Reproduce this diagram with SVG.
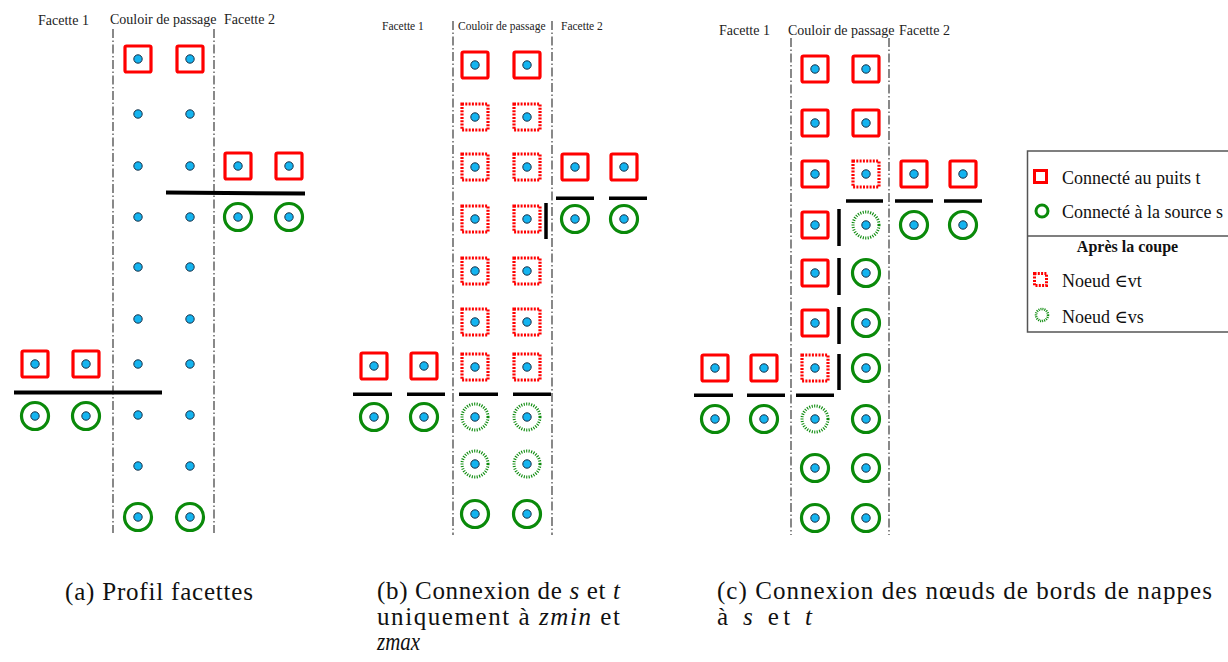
<svg xmlns="http://www.w3.org/2000/svg" xmlns:xlink="http://www.w3.org/1999/xlink" width="1228" height="662" viewBox="0 0 1228 662">
<style>
.bg{fill:#ffffff}
.lane{stroke:#4a4a4a;stroke-width:1.3;stroke-dasharray:9 2.5 1.5 2.5;fill:none}
.cut{stroke:#000;stroke-width:3.5;fill:none}
.cutA{stroke:#000;stroke-width:4;fill:none}
.t{fill:none;stroke:#ff0000;stroke-width:3.2}
.td{fill:none;stroke:#ff0000;stroke-width:3.2;stroke-dasharray:2 1.3}
.s{fill:none;stroke:#0a8a0a;stroke-width:3.2}
.sd{fill:none;stroke:#0a8a0a;stroke-width:3;stroke-dasharray:1.1 1.4}
.dot{fill:#14b4f0;stroke:#1a2f45;stroke-width:1}
.lbl{font-family:'Liberation Serif','DejaVu Serif',serif;fill:#222}
.leg{font-family:'Liberation Serif','DejaVu Serif',serif;font-size:18px;fill:#111}
.legb{font-family:'Liberation Serif','DejaVu Serif',serif;font-size:16px;font-weight:bold;fill:#111}
.cap{font-family:'Liberation Serif','DejaVu Serif',serif;font-size:25px;fill:#111}
.it{font-style:italic}
.box{fill:#fff;stroke:#555;stroke-width:1.5}
</style>
<defs>
<circle id="dot" r="4.2" class="dot"/>
<rect id="sqT" x="-13" y="-13" width="26" height="26" rx="1.5" class="t"/>
<rect id="sqTd" x="-13" y="-13" width="26" height="26" class="td"/>
<circle id="ciS" r="13.5" class="s"/>
<circle id="ciSd" r="13" class="sd"/>
</defs>
<rect class="bg" x="0" y="0" width="1228" height="662"/>

<!-- Panel labels -->
<g id="labels-a" class="lbl" font-size="14">
<text x="38" y="25">Facette 1</text>
<text x="110" y="24">Couloir de passage</text>
<text x="224" y="24">Facette 2</text>
</g>
<g id="labels-b" class="lbl" font-size="11.5">
<text x="382" y="30">Facette 1</text>
<text x="458" y="30">Couloir de passage</text>
<text x="561" y="30">Facette 2</text>
</g>
<g id="labels-c" class="lbl" font-size="14">
<text x="719" y="35">Facette 1</text>
<text x="788" y="35">Couloir de passage</text>
<text x="899" y="35">Facette 2</text>
</g>

<!-- Lanes -->
<g id="lanes">
<line class="lane" x1="113" y1="29" x2="113" y2="533"/>
<line class="lane" x1="214" y1="29" x2="214" y2="533"/>
<line class="lane" x1="453" y1="21" x2="453" y2="535"/>
<line class="lane" x1="552" y1="21" x2="552" y2="535"/>
<line class="lane" x1="791" y1="38" x2="791" y2="535"/>
<line class="lane" x1="889" y1="38" x2="889" y2="535"/>
</g>

<!-- Connectors (cut lines) -->
<g id="connectors">
<line class="cutA" x1="166" y1="192.5" x2="305" y2="193.5"/>
<line class="cutA" x1="14" y1="392.5" x2="162" y2="392.5"/>
<line class="cut" x1="556" y1="198.3" x2="594" y2="198.3"/>
<line class="cut" x1="609" y1="198.3" x2="647" y2="198.3"/>
<line class="cut" x1="546" y1="203" x2="546" y2="239"/>
<line class="cut" x1="353" y1="394.3" x2="392" y2="394.3"/>
<line class="cut" x1="407" y1="394.3" x2="445" y2="394.3"/>
<line class="cut" x1="459" y1="394.3" x2="498" y2="394.3"/>
<line class="cut" x1="513" y1="394.3" x2="551" y2="394.3"/>
<line class="cut" x1="846" y1="201" x2="883" y2="201"/>
<line class="cut" x1="895" y1="201" x2="933" y2="201"/>
<line class="cut" x1="944" y1="201" x2="982" y2="201"/>
<line class="cut" x1="839" y1="209" x2="839" y2="246"/>
<line class="cut" x1="839" y1="258" x2="839" y2="295"/>
<line class="cut" x1="839" y1="307" x2="839" y2="344"/>
<line class="cut" x1="839" y1="354" x2="839" y2="390"/>
<line class="cut" x1="694" y1="395.3" x2="733" y2="395.3"/>
<line class="cut" x1="747" y1="395.3" x2="785" y2="395.3"/>
<line class="cut" x1="796" y1="395.3" x2="834" y2="395.3"/>
</g>

<!-- Panel (a) nodes -->
<g id="a-c1-1" transform="translate(138,59)"><use href="#sqT"/><use href="#dot"/></g>
<g id="a-c2-1" transform="translate(190,59)"><use href="#sqT"/><use href="#dot"/></g>
<g id="a-c1-2" transform="translate(138,114)"><use href="#dot"/></g>
<g id="a-c2-2" transform="translate(190,114)"><use href="#dot"/></g>
<g id="a-c1-3" transform="translate(138,166)"><use href="#dot"/></g>
<g id="a-c2-3" transform="translate(190,166)"><use href="#dot"/></g>
<g id="a-c1-4" transform="translate(138,217)"><use href="#dot"/></g>
<g id="a-c2-4" transform="translate(190,217)"><use href="#dot"/></g>
<g id="a-c1-5" transform="translate(138,267)"><use href="#dot"/></g>
<g id="a-c2-5" transform="translate(190,267)"><use href="#dot"/></g>
<g id="a-c1-6" transform="translate(138,319)"><use href="#dot"/></g>
<g id="a-c2-6" transform="translate(190,319)"><use href="#dot"/></g>
<g id="a-c1-7" transform="translate(138,364)"><use href="#dot"/></g>
<g id="a-c2-7" transform="translate(190,364)"><use href="#dot"/></g>
<g id="a-c1-8" transform="translate(138,415)"><use href="#dot"/></g>
<g id="a-c2-8" transform="translate(190,415)"><use href="#dot"/></g>
<g id="a-c1-9" transform="translate(138,466)"><use href="#dot"/></g>
<g id="a-c2-9" transform="translate(190,466)"><use href="#dot"/></g>
<g id="a-c1-10" transform="translate(138,517)"><use href="#ciS"/><use href="#dot"/></g>
<g id="a-c2-10" transform="translate(190,517)"><use href="#ciS"/><use href="#dot"/></g>
<g id="a-f2-t1" transform="translate(238,166)"><use href="#sqT"/><use href="#dot"/></g>
<g id="a-f2-t2" transform="translate(289,166)"><use href="#sqT"/><use href="#dot"/></g>
<g id="a-f2-s1" transform="translate(238,217)"><use href="#ciS"/><use href="#dot"/></g>
<g id="a-f2-s2" transform="translate(289,217)"><use href="#ciS"/><use href="#dot"/></g>
<g id="a-f1-t1" transform="translate(35,364)"><use href="#sqT"/><use href="#dot"/></g>
<g id="a-f1-t2" transform="translate(86,364)"><use href="#sqT"/><use href="#dot"/></g>
<g id="a-f1-s1" transform="translate(35,416)"><use href="#ciS"/><use href="#dot"/></g>
<g id="a-f1-s2" transform="translate(86,416)"><use href="#ciS"/><use href="#dot"/></g>

<!-- Panel (b) nodes -->
<g id="b-c1-1" transform="translate(475,65)"><use href="#sqT"/><use href="#dot"/></g>
<g id="b-c2-1" transform="translate(527,65)"><use href="#sqT"/><use href="#dot"/></g>
<g id="b-c1-2" transform="translate(475,117)"><use href="#sqTd"/><use href="#dot"/></g>
<g id="b-c2-2" transform="translate(527,117)"><use href="#sqTd"/><use href="#dot"/></g>
<g id="b-c1-3" transform="translate(475,167)"><use href="#sqTd"/><use href="#dot"/></g>
<g id="b-c2-3" transform="translate(527,167)"><use href="#sqTd"/><use href="#dot"/></g>
<g id="b-c1-4" transform="translate(475,219)"><use href="#sqTd"/><use href="#dot"/></g>
<g id="b-c2-4" transform="translate(527,219)"><use href="#sqTd"/><use href="#dot"/></g>
<g id="b-c1-5" transform="translate(475,271)"><use href="#sqTd"/><use href="#dot"/></g>
<g id="b-c2-5" transform="translate(527,271)"><use href="#sqTd"/><use href="#dot"/></g>
<g id="b-c1-6" transform="translate(475,322)"><use href="#sqTd"/><use href="#dot"/></g>
<g id="b-c2-6" transform="translate(527,322)"><use href="#sqTd"/><use href="#dot"/></g>
<g id="b-c1-7" transform="translate(475,367)"><use href="#sqTd"/><use href="#dot"/></g>
<g id="b-c2-7" transform="translate(527,367)"><use href="#sqTd"/><use href="#dot"/></g>
<g id="b-c1-8" transform="translate(475,417)"><use href="#ciSd"/><use href="#dot"/></g>
<g id="b-c2-8" transform="translate(527,417)"><use href="#ciSd"/><use href="#dot"/></g>
<g id="b-c1-9" transform="translate(475,464)"><use href="#ciSd"/><use href="#dot"/></g>
<g id="b-c2-9" transform="translate(527,464)"><use href="#ciSd"/><use href="#dot"/></g>
<g id="b-c1-10" transform="translate(475,514)"><use href="#ciS"/><use href="#dot"/></g>
<g id="b-c2-10" transform="translate(527,514)"><use href="#ciS"/><use href="#dot"/></g>
<g id="b-f2-t1" transform="translate(575,167)"><use href="#sqT"/><use href="#dot"/></g>
<g id="b-f2-t2" transform="translate(624,167)"><use href="#sqT"/><use href="#dot"/></g>
<g id="b-f2-s1" transform="translate(575,219)"><use href="#ciS"/><use href="#dot"/></g>
<g id="b-f2-s2" transform="translate(624,219)"><use href="#ciS"/><use href="#dot"/></g>
<g id="b-f1-t1" transform="translate(374,366)"><use href="#sqT"/><use href="#dot"/></g>
<g id="b-f1-t2" transform="translate(424,366)"><use href="#sqT"/><use href="#dot"/></g>
<g id="b-f1-s1" transform="translate(374,417)"><use href="#ciS"/><use href="#dot"/></g>
<g id="b-f1-s2" transform="translate(424,417)"><use href="#ciS"/><use href="#dot"/></g>

<!-- Panel (c) nodes -->
<g id="c-c1-1" transform="translate(815,69)"><use href="#sqT"/><use href="#dot"/></g>
<g id="c-c2-1" transform="translate(866,69)"><use href="#sqT"/><use href="#dot"/></g>
<g id="c-c1-2" transform="translate(815,123)"><use href="#sqT"/><use href="#dot"/></g>
<g id="c-c2-2" transform="translate(866,123)"><use href="#sqT"/><use href="#dot"/></g>
<g id="c-c1-3" transform="translate(815,174)"><use href="#sqT"/><use href="#dot"/></g>
<g id="c-c2-3" transform="translate(866,174)"><use href="#sqTd"/><use href="#dot"/></g>
<g id="c-c1-4" transform="translate(815,225)"><use href="#sqT"/><use href="#dot"/></g>
<g id="c-c2-4" transform="translate(866,225)"><use href="#ciSd"/><use href="#dot"/></g>
<g id="c-c1-5" transform="translate(815,273)"><use href="#sqT"/><use href="#dot"/></g>
<g id="c-c2-5" transform="translate(866,273)"><use href="#ciS"/><use href="#dot"/></g>
<g id="c-c1-6" transform="translate(815,323)"><use href="#sqT"/><use href="#dot"/></g>
<g id="c-c2-6" transform="translate(866,323)"><use href="#ciS"/><use href="#dot"/></g>
<g id="c-c1-7" transform="translate(815,368)"><use href="#sqTd"/><use href="#dot"/></g>
<g id="c-c2-7" transform="translate(866,368)"><use href="#ciS"/><use href="#dot"/></g>
<g id="c-c1-8" transform="translate(815,419)"><use href="#ciSd"/><use href="#dot"/></g>
<g id="c-c2-8" transform="translate(866,419)"><use href="#ciS"/><use href="#dot"/></g>
<g id="c-c1-9" transform="translate(815,468)"><use href="#ciS"/><use href="#dot"/></g>
<g id="c-c2-9" transform="translate(866,468)"><use href="#ciS"/><use href="#dot"/></g>
<g id="c-c1-10" transform="translate(815,518)"><use href="#ciS"/><use href="#dot"/></g>
<g id="c-c2-10" transform="translate(866,518)"><use href="#ciS"/><use href="#dot"/></g>
<g id="c-f2-t1" transform="translate(914,174)"><use href="#sqT"/><use href="#dot"/></g>
<g id="c-f2-t2" transform="translate(963,174)"><use href="#sqT"/><use href="#dot"/></g>
<g id="c-f2-s1" transform="translate(914,225)"><use href="#ciS"/><use href="#dot"/></g>
<g id="c-f2-s2" transform="translate(963,225)"><use href="#ciS"/><use href="#dot"/></g>
<g id="c-f1-t1" transform="translate(715,368)"><use href="#sqT"/><use href="#dot"/></g>
<g id="c-f1-t2" transform="translate(764,368)"><use href="#sqT"/><use href="#dot"/></g>
<g id="c-f1-s1" transform="translate(715,419)"><use href="#ciS"/><use href="#dot"/></g>
<g id="c-f1-s2" transform="translate(764,419)"><use href="#ciS"/><use href="#dot"/></g>

<!-- Legend -->
<g id="legend">
<rect class="box" x="1027.5" y="151" width="220" height="181"/>
<line x1="1027.5" y1="236" x2="1228" y2="236" stroke="#555" stroke-width="1.5"/>
<rect x="1034.5" y="170.5" width="12" height="12" fill="none" stroke="#ff0000" stroke-width="3"/>
<text class="leg" x="1062" y="184">Connecté au puits t</text>
<circle cx="1042" cy="211" r="6" fill="none" stroke="#0a8a0a" stroke-width="3"/>
<text class="leg" x="1062" y="218">Connecté à la source s</text>
<text class="legb" x="1127.5" y="252" text-anchor="middle">Après la coupe</text>
<rect x="1034.5" y="273.5" width="12" height="12" fill="none" stroke="#ff0000" stroke-width="3" stroke-dasharray="2 1.3"/>
<text class="leg" x="1062" y="287">Noeud ∈vt</text>
<circle cx="1042" cy="315" r="6" fill="none" stroke="#0a8a0a" stroke-width="2.5" stroke-dasharray="1 1"/>
<text class="leg" x="1062" y="323">Noeud ∈vs</text>
</g>

<!-- Captions -->
<g id="captions">
<text class="cap" x="65" y="600" textLength="188" lengthAdjust="spacing">(a) Profil facettes</text>
<text class="cap" x="377" y="599" textLength="243" lengthAdjust="spacing">(b) Connexion de <tspan class="it">s</tspan> et <tspan class="it">t</tspan></text>
<text class="cap" x="377" y="625" textLength="243" lengthAdjust="spacing">uniquement à <tspan class="it">zmin</tspan> et</text>
<text class="cap it" x="377" y="650" textLength="43" lengthAdjust="spacingAndGlyphs">zmax</text>
<text class="cap" x="717" y="599" textLength="495" lengthAdjust="spacing">(c) Connexion des nœuds de bords de nappes</text>
<text class="cap" x="717" y="625" textLength="95" lengthAdjust="spacing">à <tspan class="it">s</tspan> et <tspan class="it">t</tspan></text>
</g>
</svg>
